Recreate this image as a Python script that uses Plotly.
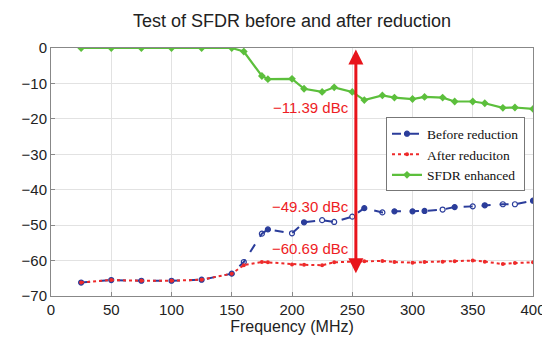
import plotly.graph_objects as go

freq = [25, 50, 75, 100, 125, 150, 160, 175, 180, 200, 210, 225, 235, 250, 260,
        275, 285, 300, 310, 325, 335, 350, 360, 375, 385, 400]
before = [-66.2, -65.5, -65.7, -65.7, -65.4, -63.7, -60.4, -52.4, -51.2, -52.3, -49.2,
          -48.6, -49.1, -47.6, -45.2, -46.4, -46.1, -46.1, -46.0, -45.6, -44.9, -44.7,
          -44.4, -44.1, -44.1, -43.1]
after = [-66.2, -65.5, -65.7, -65.7, -65.4, -63.7, -61.3, -60.4, -60.5, -61.1, -61.2,
         -61.3, -60.5, -60.3, -60.2, -60.1, -60.4, -60.6, -60.4, -60.3, -60.2, -60.0,
         -60.3, -61.0, -60.7, -60.5]
enhanced = [0.0, 0.0, 0.0, 0.0, 0.0, 0.0, -1.0, -7.9, -8.8, -8.7, -11.5, -12.4, -11.1,
            -12.4, -14.7, -13.4, -14.0, -14.4, -13.8, -14.0, -15.1, -15.1, -15.6, -16.9,
            -16.8, -17.2]
series_names = ["Before reduction", "After reduciton", "SFDR enhanced"]
annot_labels = ["\u221211.39 dBc", "\u221249.30 dBc", "\u221260.69 dBc"]
annot_y = [-16.9, -44.6, -56.7]
arrow_x = 253
arrow_top = 0
arrow_bottom = -63.6

blue_sym = ["circle"] * 6 + ["circle-open", "circle-open", "circle", "circle-open", "circle",
            "circle-open", "circle-open", "circle-open", "circle", "circle-open", "circle",
            "circle", "circle", "circle-open", "circle", "circle-open", "circle", "circle-open",
            "circle-open", "circle"]

fig = go.Figure()
fig.add_trace(go.Scatter(
    x=freq, y=before, name=series_names[0], mode="lines+markers",
    line=dict(color="#2b3d9b", width=2, dash="dash"),
    marker=dict(symbol=blue_sym, size=5, color="#2b3d9b", line=dict(color="#2b3d9b", width=1.2)),
))
fig.add_trace(go.Scatter(
    x=freq, y=after, name=series_names[1], mode="lines+markers",
    line=dict(color="#ee2a2a", width=2, dash="dot"),
    marker=dict(symbol="circle", size=4, color="#ee2a2a"),
))
fig.add_trace(go.Scatter(
    x=freq, y=enhanced, name=series_names[2], mode="lines+markers",
    line=dict(color="#5cbf3c", width=2.2),
    marker=dict(symbol="diamond", size=6, color="#5cbf3c"),
))

# double-headed arrow
fig.add_annotation(x=arrow_x, y=arrow_bottom, ax=arrow_x, ay=arrow_top,
                   xref="x", yref="y", axref="x", ayref="y",
                   text="", showarrow=True, arrowhead=2, arrowside="end+start",
                   arrowsize=1.0, arrowwidth=3, arrowcolor="#e8141b")
for lab, yy in zip(annot_labels, annot_y):
    fig.add_annotation(x=250, y=yy, xref="x", yref="y", text=lab, showarrow=False,
                       xanchor="right", yanchor="middle", xshift=-1,
                       font=dict(family="Liberation Sans, Arial", size=15, color="#ee1c24"))

fig.update_layout(
    width=550, height=338,
    margin=dict(l=43, r=21, t=40, b=50),
    paper_bgcolor="white", plot_bgcolor="white",
    title=dict(text="Test of SFDR before and after reduction", x=0.5, xanchor="center",
               y=0.963, yanchor="middle", xref="paper",
               font=dict(family="Liberation Sans, Arial", size=18, color="#222")),
    font=dict(family="Liberation Sans, Arial", size=15, color="#222"),
    showlegend=True,
    legend=dict(x=0.695, y=0.72, xanchor="left", yanchor="top",
                bgcolor="white", bordercolor="#777", borderwidth=1,
                font=dict(family="Liberation Serif, Times New Roman", size=13.5, color="#111"),
                itemwidth=30, tracegroupgap=0),
)
fig.update_xaxes(range=[0, 400], dtick=50, tick0=0, showgrid=True, gridcolor="#e2e2e2",
                 showline=True, linecolor="#888", mirror=True, ticks="inside", ticklen=4,
                 tickcolor="#888", zeroline=False,
                 title=dict(text="Frequency (MHz)", standoff=0, font=dict(size=16)))
fig.update_yaxes(range=[-70, 0], dtick=10, tick0=0, showgrid=True, gridcolor="#e2e2e2",
                 showline=True, linecolor="#888", mirror=True, ticks="inside", ticklen=4,
                 tickcolor="#888", zeroline=False)

fig.write_html("out.html")
